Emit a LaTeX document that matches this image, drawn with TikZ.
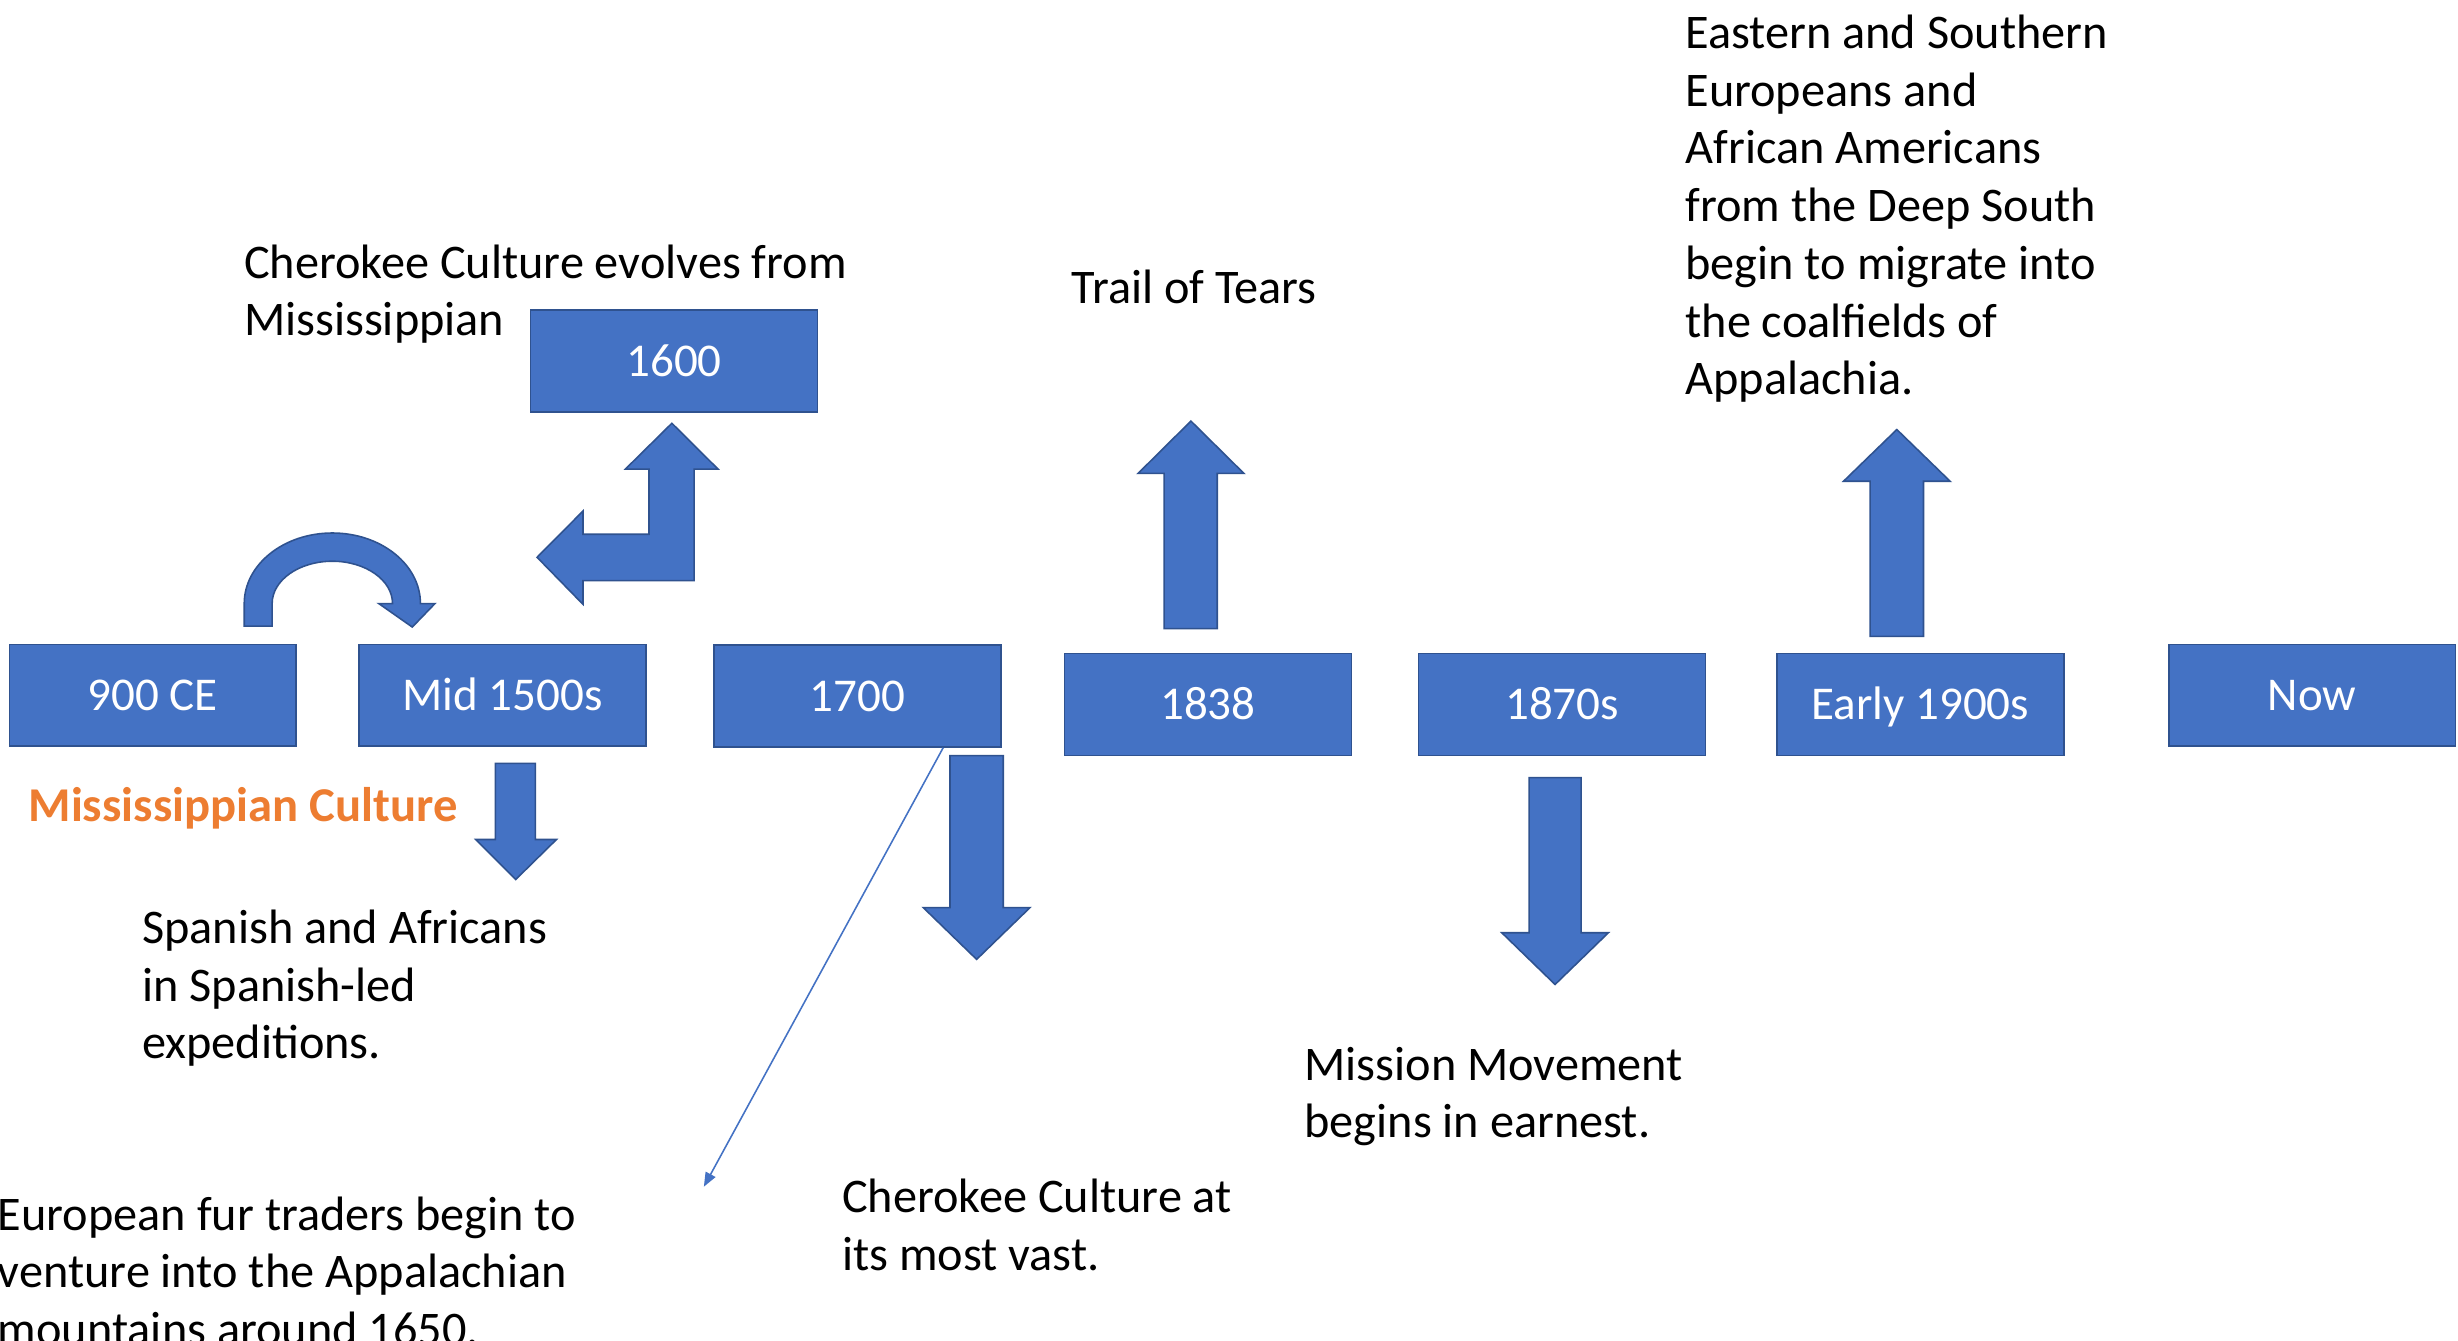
\documentclass[tikz,border=0pt]{standalone}
\usepackage{fontspec}
\setmainfont{Carlito}
\usetikzlibrary{arrows.meta,calc}
\definecolor{pblue}{HTML}{4472C4}
\definecolor{pedge}{HTML}{2F528F}
\definecolor{porange}{HTML}{ED7D31}
\begin{document}
\begin{tikzpicture}[x=1pt,y=-1pt,
  tbox/.style={draw=pedge, fill=pblue, line width=1pt, minimum width=183pt,
    minimum height=65pt, inner sep=0pt, text=white,
    font=\fontsize{30}{36}\selectfont, text height=19.3pt, text depth=0pt},
  blk/.style={draw=pedge, fill=pblue, line width=1pt, line join=miter},
  txt/.style={anchor=base west, inner sep=0pt, font=\fontsize{30.8}{36.8}\selectfont},
  thin/.style={draw=pblue, line width=1pt, -{Triangle[length=9pt,width=7pt]}}]
\useasboundingbox (0,0) rectangle (1568,855);
\clip (0,0) rectangle (1568,855);
\fill[white] (0,0) rectangle (1568,855);

% timeline boxes
\node[tbox] (b900)  at (97.5,443.5) {900 CE};
\node[tbox] (b1500) at (320.5,443.5) {Mid 1500s};
\node[tbox] (b1700) at (547,444) {1700};
\node[tbox] (b1838) at (770.5,449.5) {1838};
\node[tbox] (b1870) at (996.5,449.5) {1870s};
\node[tbox] (b1900) at (1225,449.5) {Early 1900s};
\node[tbox] (bnow)  at (1475,443.5) {Now};
\node[tbox] (b1600) at (430,230.4) {1600};

% U-turn arrow 900 CE -> Mid 1500s
\path[blk] (155.8,399.4) -- (155.8,385)
  arc[start angle=180,end angle=360,x radius=56.2,y radius=45]
  -- (277.5,385) -- (263,400) -- (241.6,385) -- (250.4,385)
  arc[start angle=360,end angle=180,x radius=38.4,y radius=27]
  -- (173.6,399.4) -- cycle;

% bent arrow (Mid 1500s <-> 1600)
\path[blk] (428.6,270) -- (458,299.2) -- (442.8,299.2) -- (442.8,370.4)
  -- (371.9,370.4) -- (371.9,385.5) -- (342.6,355.5) -- (371.9,326)
  -- (371.9,340.8) -- (414,340.8) -- (414,299.2) -- (399,299.2) -- cycle;

% down arrow Mid 1500s
\path[blk] (316,487) -- (341.5,487) -- (341.5,535.5) -- (355,535.5)
  -- (329,561) -- (303.5,535.5) -- (316,535.5) -- cycle;

% down arrow 1700
\path[blk] (606,482) -- (640,482) -- (640,579) -- (657,579)
  -- (623,612) -- (589,579) -- (606,579) -- cycle;

% up arrow 1838
\path[blk] (742.6,401) -- (742.6,302) -- (726,302) -- (759.7,268.6)
  -- (793.5,302) -- (776.5,302) -- (776.5,401) -- cycle;

% down arrow 1870s
\path[blk] (975.4,496) -- (1008.6,496) -- (1008.6,595) -- (1026,595)
  -- (992,628) -- (958,595) -- (975.4,595) -- cycle;

% up arrow Early 1900s
\path[blk] (1193,406) -- (1193,307) -- (1176,307) -- (1210,274)
  -- (1244,307) -- (1227,307) -- (1227,406) -- cycle;

% thin connector from 1700
\coordinate (furEnd) at (449,757);
\draw[thin] ($(b1700.south west)!0.797!(b1700.south east)$) -- (furEnd);

% texts
\node[txt] (tCher) at (155.5,177.5) {\parbox[t]{500pt}{\raggedright Cherokee Culture evolves from\\Mississippian}};
\node[txt] (tTrail) at (683.5,193.5) {Trail of Tears};
\node[txt] (tEast) at (1075,31) {\parbox[t]{480pt}{\raggedright Eastern and Southern\\Europeans and\\African Americans\\from the Deep South\\begin to migrate into\\the coalfields of\\Appalachia.}};
\node[txt, font=\fontsize{31}{36.8}\selectfont\bfseries, text=porange] (tMiss) at (18,524) {Mississippian Culture};
\node[txt] (tSpan) at (90.5,601.8) {\parbox[t]{500pt}{\raggedright Spanish and Africans\\in Spanish-led\\expeditions.}};
\node[txt] (tEuro) at (-1.5,784.7) {\parbox[t]{500pt}{\raggedright European fur traders begin to\\venture into the Appalachian\\mountains around 1650.}};
\node[txt] (tVast) at (537,773.6) {\parbox[t]{500pt}{\raggedright Cherokee Culture at\\its most vast.}};
\node[txt] (tMission) at (832,689) {\parbox[t]{500pt}{\raggedright Mission Movement\\begins in earnest.}};
\end{tikzpicture}
\end{document}
